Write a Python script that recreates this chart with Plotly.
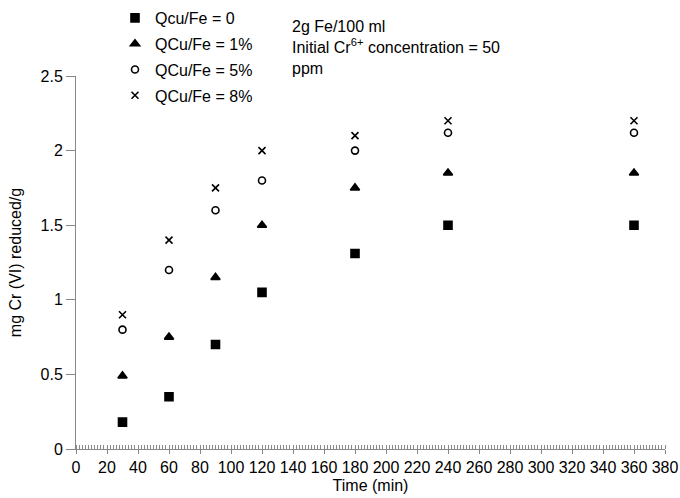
import plotly.graph_objects as go

time_min = [30, 60, 90, 120, 180, 240, 360]
q0 = [0.18, 0.35, 0.70, 1.05, 1.31, 1.50, 1.50]
q1 = [0.49, 0.75, 1.15, 1.50, 1.75, 1.85, 1.85]
q5 = [0.80, 1.20, 1.60, 1.80, 2.00, 2.12, 2.12]
q8 = [0.90, 1.40, 1.75, 2.00, 2.10, 2.20, 2.20]
names = ["Qcu/Fe = 0", "QCu/Fe = 1%", "QCu/Fe = 5%", "QCu/Fe = 8%"]

FONT = "Liberation Sans, Arial, sans-serif"
fig = go.Figure()
series = [q0, q1, q5, q8]
symbols = ["square", "triangle-up", "circle-open", "x-thin-open"]
sizes = [8, 8, 7, 7]
for i, (ys, nm, sym, sz) in enumerate(zip(series, names, symbols, sizes)):
    fig.add_trace(go.Scatter(
        x=time_min, y=ys, mode="markers", name=nm, legendgroup=f"g{i}",
        marker=dict(symbol=sym, size=sz, color="black", line=dict(color="black", width=1.6)),
    ))

W, H = 680, 498
L, T, PW, PH = 76, 76, 589, 373
fig.update_layout(
    width=W, height=H,
    margin=dict(l=L, r=W - L - PW, t=T, b=H - T - PH, autoexpand=False),
    plot_bgcolor="white", paper_bgcolor="white",
    font=dict(family=FONT, size=16, color="black"),
    showlegend=True,
    legend=dict(x=(115 - L) / PW, y=1 + (T - 1) / PH,
                xanchor="left", yanchor="top", bgcolor="rgba(0,0,0,0)",
                font=dict(size=16), itemwidth=30, tracegroupgap=2),
    xaxis=dict(range=[0, 380], dtick=20, tick0=0, showgrid=False, zeroline=False,
               showline=True, linecolor="#888", linewidth=1,
               ticks="outside", ticklen=4, tickcolor="#888",
               minor=dict(dtick=2, ticks="inside", ticklen=4, tickcolor="#888"),
               title=dict(text="Time (min)", font=dict(size=16), standoff=4),
               tickfont=dict(size=16), automargin=True, ticklabeloverflow="allow"),
    yaxis=dict(range=[0, 2.5], dtick=0.5, showgrid=False, zeroline=False,
               showline=True, linecolor="#888", linewidth=1,
               ticks="outside", ticklen=9, tickcolor="#888",
               title=dict(text="mg Cr (VI) reduced/g", font=dict(size=16), standoff=14),
               tickfont=dict(size=16), automargin=True),
    annotations=[dict(
        text="2g Fe/100 ml<br>Initial Cr<sup>6+</sup> concentration = 50<br>ppm",
        xref="paper", yref="paper", x=(290 - L) / PW, y=(449 - 16) / PH,
        xanchor="left", yanchor="top",
        align="left", showarrow=False, font=dict(size=16)),
    ],
)
fig.write_html("out.html",
               config={"displayModeBar": False},
               post_script="document.body.style.margin='0';document.body.style.overflow='hidden';")
